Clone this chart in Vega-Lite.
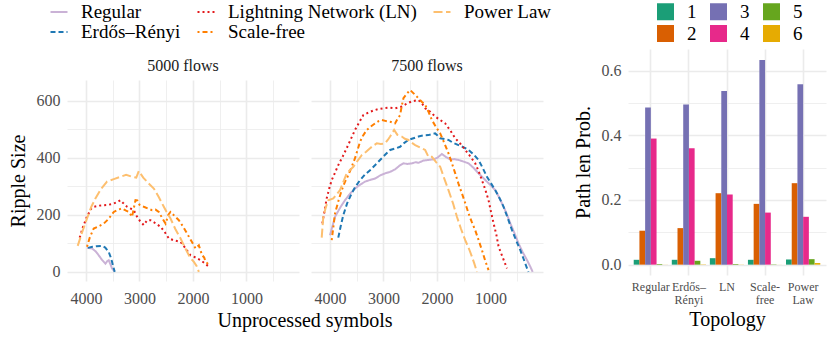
{
  "$schema": "https://vega.github.io/schema/vega-lite/v6.json",
  "background": "white",
  "padding": {"left": 8, "top": 2, "right": 5, "bottom": 5},
  "config": {
    "font": "Liberation Serif",
    "view": {"stroke": null},
    "axis": {"domain": false, "ticks": false, "gridColor": "#EBEBEB", "labelColor": "#4D4D4D", "labelFontSize": 16, "titleFontSize": 20, "titleFontWeight": "normal", "titleColor": "#000000", "labelPadding": 7, "titlePadding": 8, "labelFont": "Liberation Serif", "titleFont": "Liberation Serif"},
    "legend": {"labelFont": "Liberation Serif", "labelLimit": 400},
    "header": {"labelOrient": "top", "titleOrient": "bottom", "labelFontSize": 16, "labelColor": "#1A1A1A", "titleFontSize": 20, "titleFontWeight": "normal", "titleColor": "#000000", "labelPadding": 6, "titlePadding": -5, "labelFont": "Liberation Serif", "titleFont": "Liberation Serif"},
    "facet": {"spacing": 12}
  },
  "spacing": 30,
  "hconcat": [
    {
      "spacing": 8,
      "vconcat": [
        {
          "data": {"values": []},
          "width": 1,
          "height": 1,
          "mark": {"type": "point", "opacity": 0},
          "encoding": {}
        },
        {
          "data": {"name": "lines"},
          "facet": {"column": {"field": "f", "type": "nominal", "title": "Unprocessed symbols"}},
          "spec": {
            "width": 232,
            "height": 201,
            "mark": {"type": "line", "strokeWidth": 2},
            "encoding": {
              "x": {"field": "x", "type": "quantitative", "scale": {"domain": [18, 4355], "reverse": true, "nice": false, "zero": false},
                "axis": {"title": null, "labelPadding": 9, "values": [500, 1000, 1500, 2000, 2500, 3000, 3500, 4000], "labelExpr": "datum.value % 1000 === 0 ? datum.label : ''", "format": "d", "gridWidth": {"condition": {"test": "datum.value % 1000 === 0", "value": 1.6}, "value": 0.8}}},
              "y": {"field": "y", "type": "quantitative", "scale": {"domain": [-32, 672], "nice": false, "zero": false},
                "axis": {"title": "Ripple Size", "values": [0, 100, 200, 300, 400, 500, 600], "labelExpr": "datum.value % 200 === 0 ? datum.label : ''", "gridWidth": {"condition": {"test": "datum.value % 200 === 0", "value": 1.6}, "value": 0.8}}},
              "color": {"field": "t", "type": "nominal",
                "scale": {"domain": ["Regular", "Lightning Network (LN)", "Power Law", "Erdős–Rényi", "Scale-free"], "range": ["#CAB2D6", "#E31A1C", "#FDBF6F", "#1F78B4", "#FF7F00"]},
                "legend": {"orient": "none", "legendX": -18, "legendY": -47, "direction": "horizontal", "columns": 3, "title": null, "labelFontSize": 19, "symbolSize": 289, "symbolStrokeWidth": 2.2, "labelOffset": 12, "columnPadding": 12, "rowPadding": 0}},
              "strokeDash": {"field": "t", "type": "nominal",
                "scale": {"domain": ["Regular", "Lightning Network (LN)", "Power Law", "Erdős–Rényi", "Scale-free"], "range": [[1, 0], [2, 3], [9, 3.5], [5, 3], [2, 3, 5, 3]]},
                "legend": {"orient": "none", "legendX": -18, "legendY": -47, "direction": "horizontal", "columns": 3, "title": null, "labelFontSize": 19, "symbolSize": 289, "symbolStrokeWidth": 2.2, "labelOffset": 12, "columnPadding": 12, "rowPadding": 0}}
            }
          }
        }
      ]
    },
    {
      "data": {"name": "bars"},
      "width": 198,
      "height": 226,
      "mark": {"type": "bar"},
      "encoding": {
        "x": {"field": "topo", "type": "nominal", "sort": ["Regular", "Erdős–Rényi", "LN", "Scale-free", "Power Law"],
          "scale": {"paddingInner": 0.1, "paddingOuter": 0.15},
          "axis": {"title": "Topology", "labelAngle": 0, "labelFontSize": 12, "labelLineHeight": 13, "bandPosition": 0.5, "grid": true, "gridWidth": 1.6, "labelPadding": 6, "titlePadding": 4,
            "labelExpr": "datum.label == 'Erdős–Rényi' ? ['Erdős–', 'Rényi'] : datum.label == 'Scale-free' ? ['Scale-', 'free'] : datum.label == 'Power Law' ? ['Power', 'Law'] : datum.label"}},
        "xOffset": {"field": "len", "type": "nominal", "sort": ["1", "2", "3", "4", "5", "6"], "scale": {"paddingInner": 0, "paddingOuter": 0}},
        "y": {"field": "p", "type": "quantitative", "scale": {"domain": [-0.032, 0.667], "nice": false, "zero": false},
          "axis": {"title": "Path len Prob.", "values": [0, 0.1, 0.2, 0.3, 0.4, 0.5, 0.6], "format": ".1f", "labelExpr": "(round(datum.value * 10) % 2 === 0) ? datum.label : ''", "gridWidth": {"condition": {"test": "round(datum.value * 10) % 2 === 0", "value": 1.6}, "value": 0.8}}},
        "y2": {"datum": 0},
        "fill": {"field": "len", "type": "nominal",
          "scale": {"domain": ["1", "3", "5", "2", "4", "6"], "range": ["#1B9E77", "#7570B3", "#66A61E", "#D95F02", "#E7298A", "#E6AB02"]},
          "legend": {"orient": "none", "legendX": 589, "legendY": -47, "direction": "horizontal", "columns": 3, "title": null, "labelFontSize": 19, "symbolType": "square", "symbolSize": 289, "symbolStrokeWidth": 0, "labelOffset": 12, "columnPadding": 12, "rowPadding": 2}}
      }
    }
  ],
  "datasets": {
    "bars": [
      {"topo": "Regular", "len": "1", "p": 0.015}, {"topo": "Regular", "len": "2", "p": 0.105}, {"topo": "Regular", "len": "3", "p": 0.486}, {"topo": "Regular", "len": "4", "p": 0.39}, {"topo": "Regular", "len": "5", "p": 0.002}, {"topo": "Regular", "len": "6", "p": 0.0003},
      {"topo": "Erdős–Rényi", "len": "1", "p": 0.015}, {"topo": "Erdős–Rényi", "len": "2", "p": 0.113}, {"topo": "Erdős–Rényi", "len": "3", "p": 0.495}, {"topo": "Erdős–Rényi", "len": "4", "p": 0.36}, {"topo": "Erdős–Rényi", "len": "5", "p": 0.012}, {"topo": "Erdős–Rényi", "len": "6", "p": 0.001},
      {"topo": "LN", "len": "1", "p": 0.02}, {"topo": "LN", "len": "2", "p": 0.221}, {"topo": "LN", "len": "3", "p": 0.537}, {"topo": "LN", "len": "4", "p": 0.217}, {"topo": "LN", "len": "5", "p": 0.002}, {"topo": "LN", "len": "6", "p": 0.0005},
      {"topo": "Scale-free", "len": "1", "p": 0.015}, {"topo": "Scale-free", "len": "2", "p": 0.188}, {"topo": "Scale-free", "len": "3", "p": 0.633}, {"topo": "Scale-free", "len": "4", "p": 0.161}, {"topo": "Scale-free", "len": "5", "p": 0.001}, {"topo": "Scale-free", "len": "6", "p": 0.0002},
      {"topo": "Power Law", "len": "1", "p": 0.016}, {"topo": "Power Law", "len": "2", "p": 0.252}, {"topo": "Power Law", "len": "3", "p": 0.558}, {"topo": "Power Law", "len": "4", "p": 0.148}, {"topo": "Power Law", "len": "5", "p": 0.017}, {"topo": "Power Law", "len": "6", "p": 0.005}
    ],
    "lines": [
      {"f": "5000 flows", "t": "Regular", "x": 3981, "y": 84}, {"f": "5000 flows", "t": "Regular", "x": 3888, "y": 82}, {"f": "5000 flows", "t": "Regular", "x": 3820, "y": 72}, {"f": "5000 flows", "t": "Regular", "x": 3762, "y": 58}, {"f": "5000 flows", "t": "Regular", "x": 3700, "y": 42}, {"f": "5000 flows", "t": "Regular", "x": 3637, "y": 29}, {"f": "5000 flows", "t": "Regular", "x": 3600, "y": 38}, {"f": "5000 flows", "t": "Regular", "x": 3575, "y": 41}, {"f": "5000 flows", "t": "Regular", "x": 3540, "y": 25}, {"f": "5000 flows", "t": "Regular", "x": 3513, "y": 12}, {"f": "5000 flows", "t": "Regular", "x": 3470, "y": 2},
      {"f": "5000 flows", "t": "Erdős–Rényi", "x": 3962, "y": 84}, {"f": "5000 flows", "t": "Erdős–Rényi", "x": 3880, "y": 88}, {"f": "5000 flows", "t": "Erdős–Rényi", "x": 3800, "y": 90}, {"f": "5000 flows", "t": "Erdős–Rényi", "x": 3700, "y": 91}, {"f": "5000 flows", "t": "Erdős–Rényi", "x": 3640, "y": 85}, {"f": "5000 flows", "t": "Erdős–Rényi", "x": 3575, "y": 70}, {"f": "5000 flows", "t": "Erdős–Rényi", "x": 3540, "y": 52}, {"f": "5000 flows", "t": "Erdős–Rényi", "x": 3513, "y": 35}, {"f": "5000 flows", "t": "Erdős–Rényi", "x": 3490, "y": 18}, {"f": "5000 flows", "t": "Erdős–Rényi", "x": 3463, "y": 0},
      {"f": "5000 flows", "t": "Lightning Network (LN)", "x": 4118, "y": 120}, {"f": "5000 flows", "t": "Lightning Network (LN)", "x": 4060, "y": 155}, {"f": "5000 flows", "t": "Lightning Network (LN)", "x": 3980, "y": 195}, {"f": "5000 flows", "t": "Lightning Network (LN)", "x": 3900, "y": 222}, {"f": "5000 flows", "t": "Lightning Network (LN)", "x": 3856, "y": 228}, {"f": "5000 flows", "t": "Lightning Network (LN)", "x": 3750, "y": 232}, {"f": "5000 flows", "t": "Lightning Network (LN)", "x": 3607, "y": 234}, {"f": "5000 flows", "t": "Lightning Network (LN)", "x": 3500, "y": 238}, {"f": "5000 flows", "t": "Lightning Network (LN)", "x": 3420, "y": 244}, {"f": "5000 flows", "t": "Lightning Network (LN)", "x": 3356, "y": 251}, {"f": "5000 flows", "t": "Lightning Network (LN)", "x": 3300, "y": 240}, {"f": "5000 flows", "t": "Lightning Network (LN)", "x": 3232, "y": 228}, {"f": "5000 flows", "t": "Lightning Network (LN)", "x": 3170, "y": 222}, {"f": "5000 flows", "t": "Lightning Network (LN)", "x": 3107, "y": 216}, {"f": "5000 flows", "t": "Lightning Network (LN)", "x": 3050, "y": 195}, {"f": "5000 flows", "t": "Lightning Network (LN)", "x": 2990, "y": 178}, {"f": "5000 flows", "t": "Lightning Network (LN)", "x": 2920, "y": 164}, {"f": "5000 flows", "t": "Lightning Network (LN)", "x": 2860, "y": 180}, {"f": "5000 flows", "t": "Lightning Network (LN)", "x": 2794, "y": 181}, {"f": "5000 flows", "t": "Lightning Network (LN)", "x": 2700, "y": 170}, {"f": "5000 flows", "t": "Lightning Network (LN)", "x": 2607, "y": 158}, {"f": "5000 flows", "t": "Lightning Network (LN)", "x": 2530, "y": 140}, {"f": "5000 flows", "t": "Lightning Network (LN)", "x": 2451, "y": 117}, {"f": "5000 flows", "t": "Lightning Network (LN)", "x": 2350, "y": 110}, {"f": "5000 flows", "t": "Lightning Network (LN)", "x": 2232, "y": 105}, {"f": "5000 flows", "t": "Lightning Network (LN)", "x": 2150, "y": 85}, {"f": "5000 flows", "t": "Lightning Network (LN)", "x": 2045, "y": 58}, {"f": "5000 flows", "t": "Lightning Network (LN)", "x": 1950, "y": 50}, {"f": "5000 flows", "t": "Lightning Network (LN)", "x": 1858, "y": 41}, {"f": "5000 flows", "t": "Lightning Network (LN)", "x": 1780, "y": 30}, {"f": "5000 flows", "t": "Lightning Network (LN)", "x": 1702, "y": 18},
      {"f": "5000 flows", "t": "Scale-free", "x": 3981, "y": 88}, {"f": "5000 flows", "t": "Scale-free", "x": 3930, "y": 120}, {"f": "5000 flows", "t": "Scale-free", "x": 3856, "y": 152}, {"f": "5000 flows", "t": "Scale-free", "x": 3760, "y": 160}, {"f": "5000 flows", "t": "Scale-free", "x": 3669, "y": 169}, {"f": "5000 flows", "t": "Scale-free", "x": 3580, "y": 185}, {"f": "5000 flows", "t": "Scale-free", "x": 3481, "y": 210}, {"f": "5000 flows", "t": "Scale-free", "x": 3400, "y": 218}, {"f": "5000 flows", "t": "Scale-free", "x": 3326, "y": 222}, {"f": "5000 flows", "t": "Scale-free", "x": 3260, "y": 215}, {"f": "5000 flows", "t": "Scale-free", "x": 3200, "y": 210}, {"f": "5000 flows", "t": "Scale-free", "x": 3139, "y": 193}, {"f": "5000 flows", "t": "Scale-free", "x": 3075, "y": 251}, {"f": "5000 flows", "t": "Scale-free", "x": 3040, "y": 250}, {"f": "5000 flows", "t": "Scale-free", "x": 3000, "y": 235}, {"f": "5000 flows", "t": "Scale-free", "x": 2920, "y": 228}, {"f": "5000 flows", "t": "Scale-free", "x": 2840, "y": 222}, {"f": "5000 flows", "t": "Scale-free", "x": 2764, "y": 216}, {"f": "5000 flows", "t": "Scale-free", "x": 2700, "y": 218}, {"f": "5000 flows", "t": "Scale-free", "x": 2639, "y": 210}, {"f": "5000 flows", "t": "Scale-free", "x": 2580, "y": 190}, {"f": "5000 flows", "t": "Scale-free", "x": 2513, "y": 169}, {"f": "5000 flows", "t": "Scale-free", "x": 2460, "y": 200}, {"f": "5000 flows", "t": "Scale-free", "x": 2420, "y": 210}, {"f": "5000 flows", "t": "Scale-free", "x": 2340, "y": 195}, {"f": "5000 flows", "t": "Scale-free", "x": 2264, "y": 181}, {"f": "5000 flows", "t": "Scale-free", "x": 2190, "y": 160}, {"f": "5000 flows", "t": "Scale-free", "x": 2109, "y": 134}, {"f": "5000 flows", "t": "Scale-free", "x": 2030, "y": 108}, {"f": "5000 flows", "t": "Scale-free", "x": 1951, "y": 82}, {"f": "5000 flows", "t": "Scale-free", "x": 1890, "y": 93}, {"f": "5000 flows", "t": "Scale-free", "x": 1860, "y": 75}, {"f": "5000 flows", "t": "Scale-free", "x": 1827, "y": 58}, {"f": "5000 flows", "t": "Scale-free", "x": 1790, "y": 50}, {"f": "5000 flows", "t": "Scale-free", "x": 1764, "y": 35}, {"f": "5000 flows", "t": "Scale-free", "x": 1730, "y": 30}, {"f": "5000 flows", "t": "Scale-free", "x": 1702, "y": 18},
      {"f": "5000 flows", "t": "Power Law", "x": 4155, "y": 91}, {"f": "5000 flows", "t": "Power Law", "x": 4070, "y": 140}, {"f": "5000 flows", "t": "Power Law", "x": 3981, "y": 187}, {"f": "5000 flows", "t": "Power Law", "x": 3900, "y": 228}, {"f": "5000 flows", "t": "Power Law", "x": 3824, "y": 257}, {"f": "5000 flows", "t": "Power Law", "x": 3720, "y": 290}, {"f": "5000 flows", "t": "Power Law", "x": 3607, "y": 316}, {"f": "5000 flows", "t": "Power Law", "x": 3480, "y": 325}, {"f": "5000 flows", "t": "Power Law", "x": 3356, "y": 333}, {"f": "5000 flows", "t": "Power Law", "x": 3250, "y": 340}, {"f": "5000 flows", "t": "Power Law", "x": 3139, "y": 333}, {"f": "5000 flows", "t": "Power Law", "x": 3060, "y": 330}, {"f": "5000 flows", "t": "Power Law", "x": 3013, "y": 353}, {"f": "5000 flows", "t": "Power Law", "x": 2930, "y": 330}, {"f": "5000 flows", "t": "Power Law", "x": 2830, "y": 310}, {"f": "5000 flows", "t": "Power Law", "x": 2732, "y": 292}, {"f": "5000 flows", "t": "Power Law", "x": 2640, "y": 262}, {"f": "5000 flows", "t": "Power Law", "x": 2545, "y": 228}, {"f": "5000 flows", "t": "Power Law", "x": 2480, "y": 205}, {"f": "5000 flows", "t": "Power Law", "x": 2420, "y": 187}, {"f": "5000 flows", "t": "Power Law", "x": 2330, "y": 150}, {"f": "5000 flows", "t": "Power Law", "x": 2232, "y": 117}, {"f": "5000 flows", "t": "Power Law", "x": 2150, "y": 85}, {"f": "5000 flows", "t": "Power Law", "x": 2077, "y": 58}, {"f": "5000 flows", "t": "Power Law", "x": 2030, "y": 45}, {"f": "5000 flows", "t": "Power Law", "x": 1983, "y": 35}, {"f": "5000 flows", "t": "Power Law", "x": 1930, "y": 20}, {"f": "5000 flows", "t": "Power Law", "x": 1890, "y": 0},
      {"f": "7500 flows", "t": "Regular", "x": 4000, "y": 128}, {"f": "7500 flows", "t": "Regular", "x": 3906, "y": 193}, {"f": "7500 flows", "t": "Regular", "x": 3800, "y": 228}, {"f": "7500 flows", "t": "Regular", "x": 3719, "y": 251}, {"f": "7500 flows", "t": "Regular", "x": 3620, "y": 275}, {"f": "7500 flows", "t": "Regular", "x": 3532, "y": 292}, {"f": "7500 flows", "t": "Regular", "x": 3440, "y": 305}, {"f": "7500 flows", "t": "Regular", "x": 3345, "y": 316}, {"f": "7500 flows", "t": "Regular", "x": 3250, "y": 322}, {"f": "7500 flows", "t": "Regular", "x": 3157, "y": 327}, {"f": "7500 flows", "t": "Regular", "x": 3060, "y": 338}, {"f": "7500 flows", "t": "Regular", "x": 2970, "y": 345}, {"f": "7500 flows", "t": "Regular", "x": 2880, "y": 350}, {"f": "7500 flows", "t": "Regular", "x": 2783, "y": 359}, {"f": "7500 flows", "t": "Regular", "x": 2700, "y": 372}, {"f": "7500 flows", "t": "Regular", "x": 2627, "y": 380}, {"f": "7500 flows", "t": "Regular", "x": 2550, "y": 378}, {"f": "7500 flows", "t": "Regular", "x": 2470, "y": 380}, {"f": "7500 flows", "t": "Regular", "x": 2400, "y": 384}, {"f": "7500 flows", "t": "Regular", "x": 2346, "y": 382}, {"f": "7500 flows", "t": "Regular", "x": 2250, "y": 390}, {"f": "7500 flows", "t": "Regular", "x": 2159, "y": 392}, {"f": "7500 flows", "t": "Regular", "x": 2066, "y": 394}, {"f": "7500 flows", "t": "Regular", "x": 1990, "y": 400}, {"f": "7500 flows", "t": "Regular", "x": 1908, "y": 413}, {"f": "7500 flows", "t": "Regular", "x": 1830, "y": 402}, {"f": "7500 flows", "t": "Regular", "x": 1753, "y": 394}, {"f": "7500 flows", "t": "Regular", "x": 1680, "y": 395}, {"f": "7500 flows", "t": "Regular", "x": 1597, "y": 392}, {"f": "7500 flows", "t": "Regular", "x": 1500, "y": 386}, {"f": "7500 flows", "t": "Regular", "x": 1410, "y": 380}, {"f": "7500 flows", "t": "Regular", "x": 1320, "y": 365}, {"f": "7500 flows", "t": "Regular", "x": 1223, "y": 345}, {"f": "7500 flows", "t": "Regular", "x": 1140, "y": 330}, {"f": "7500 flows", "t": "Regular", "x": 1066, "y": 316}, {"f": "7500 flows", "t": "Regular", "x": 990, "y": 302}, {"f": "7500 flows", "t": "Regular", "x": 910, "y": 286}, {"f": "7500 flows", "t": "Regular", "x": 850, "y": 265}, {"f": "7500 flows", "t": "Regular", "x": 785, "y": 240}, {"f": "7500 flows", "t": "Regular", "x": 700, "y": 205}, {"f": "7500 flows", "t": "Regular", "x": 629, "y": 170}, {"f": "7500 flows", "t": "Regular", "x": 550, "y": 135}, {"f": "7500 flows", "t": "Regular", "x": 474, "y": 99}, {"f": "7500 flows", "t": "Regular", "x": 400, "y": 70}, {"f": "7500 flows", "t": "Regular", "x": 316, "y": 41}, {"f": "7500 flows", "t": "Regular", "x": 260, "y": 20}, {"f": "7500 flows", "t": "Regular", "x": 211, "y": 0},
      {"f": "7500 flows", "t": "Erdős–Rényi", "x": 3845, "y": 120}, {"f": "7500 flows", "t": "Erdős–Rényi", "x": 3800, "y": 160}, {"f": "7500 flows", "t": "Erdős–Rényi", "x": 3751, "y": 199}, {"f": "7500 flows", "t": "Erdős–Rényi", "x": 3680, "y": 240}, {"f": "7500 flows", "t": "Erdős–Rényi", "x": 3594, "y": 275}, {"f": "7500 flows", "t": "Erdős–Rényi", "x": 3520, "y": 300}, {"f": "7500 flows", "t": "Erdős–Rényi", "x": 3438, "y": 321}, {"f": "7500 flows", "t": "Erdős–Rényi", "x": 3350, "y": 340}, {"f": "7500 flows", "t": "Erdős–Rényi", "x": 3251, "y": 356}, {"f": "7500 flows", "t": "Erdős–Rényi", "x": 3150, "y": 375}, {"f": "7500 flows", "t": "Erdős–Rényi", "x": 3064, "y": 392}, {"f": "7500 flows", "t": "Erdős–Rényi", "x": 2970, "y": 410}, {"f": "7500 flows", "t": "Erdős–Rényi", "x": 2876, "y": 427}, {"f": "7500 flows", "t": "Erdős–Rényi", "x": 2780, "y": 432}, {"f": "7500 flows", "t": "Erdős–Rényi", "x": 2689, "y": 438}, {"f": "7500 flows", "t": "Erdős–Rényi", "x": 2610, "y": 452}, {"f": "7500 flows", "t": "Erdős–Rényi", "x": 2533, "y": 462}, {"f": "7500 flows", "t": "Erdős–Rényi", "x": 2440, "y": 468}, {"f": "7500 flows", "t": "Erdős–Rényi", "x": 2346, "y": 474}, {"f": "7500 flows", "t": "Erdős–Rényi", "x": 2250, "y": 478}, {"f": "7500 flows", "t": "Erdős–Rényi", "x": 2159, "y": 479}, {"f": "7500 flows", "t": "Erdős–Rényi", "x": 2100, "y": 482}, {"f": "7500 flows", "t": "Erdős–Rényi", "x": 2034, "y": 485}, {"f": "7500 flows", "t": "Erdős–Rényi", "x": 1990, "y": 478}, {"f": "7500 flows", "t": "Erdős–Rényi", "x": 1940, "y": 468}, {"f": "7500 flows", "t": "Erdős–Rényi", "x": 1860, "y": 465}, {"f": "7500 flows", "t": "Erdős–Rényi", "x": 1785, "y": 462}, {"f": "7500 flows", "t": "Erdős–Rényi", "x": 1700, "y": 452}, {"f": "7500 flows", "t": "Erdős–Rényi", "x": 1597, "y": 444}, {"f": "7500 flows", "t": "Erdős–Rényi", "x": 1500, "y": 436}, {"f": "7500 flows", "t": "Erdős–Rényi", "x": 1410, "y": 427}, {"f": "7500 flows", "t": "Erdős–Rényi", "x": 1310, "y": 410}, {"f": "7500 flows", "t": "Erdős–Rényi", "x": 1223, "y": 392}, {"f": "7500 flows", "t": "Erdős–Rényi", "x": 1140, "y": 362}, {"f": "7500 flows", "t": "Erdős–Rényi", "x": 1066, "y": 333}, {"f": "7500 flows", "t": "Erdős–Rényi", "x": 990, "y": 310}, {"f": "7500 flows", "t": "Erdős–Rényi", "x": 910, "y": 286}, {"f": "7500 flows", "t": "Erdős–Rényi", "x": 830, "y": 258}, {"f": "7500 flows", "t": "Erdős–Rényi", "x": 755, "y": 228}, {"f": "7500 flows", "t": "Erdős–Rényi", "x": 680, "y": 190}, {"f": "7500 flows", "t": "Erdős–Rényi", "x": 597, "y": 146}, {"f": "7500 flows", "t": "Erdős–Rényi", "x": 520, "y": 110}, {"f": "7500 flows", "t": "Erdős–Rényi", "x": 442, "y": 76}, {"f": "7500 flows", "t": "Erdős–Rényi", "x": 380, "y": 45}, {"f": "7500 flows", "t": "Erdős–Rényi", "x": 316, "y": 12}, {"f": "7500 flows", "t": "Erdős–Rényi", "x": 290, "y": 0},
      {"f": "7500 flows", "t": "Lightning Network (LN)", "x": 4143, "y": 170}, {"f": "7500 flows", "t": "Lightning Network (LN)", "x": 4100, "y": 215}, {"f": "7500 flows", "t": "Lightning Network (LN)", "x": 4062, "y": 257}, {"f": "7500 flows", "t": "Lightning Network (LN)", "x": 4010, "y": 295}, {"f": "7500 flows", "t": "Lightning Network (LN)", "x": 3968, "y": 321}, {"f": "7500 flows", "t": "Lightning Network (LN)", "x": 3900, "y": 350}, {"f": "7500 flows", "t": "Lightning Network (LN)", "x": 3845, "y": 374}, {"f": "7500 flows", "t": "Lightning Network (LN)", "x": 3760, "y": 405}, {"f": "7500 flows", "t": "Lightning Network (LN)", "x": 3688, "y": 433}, {"f": "7500 flows", "t": "Lightning Network (LN)", "x": 3610, "y": 465}, {"f": "7500 flows", "t": "Lightning Network (LN)", "x": 3532, "y": 497}, {"f": "7500 flows", "t": "Lightning Network (LN)", "x": 3450, "y": 525}, {"f": "7500 flows", "t": "Lightning Network (LN)", "x": 3376, "y": 549}, {"f": "7500 flows", "t": "Lightning Network (LN)", "x": 3280, "y": 558}, {"f": "7500 flows", "t": "Lightning Network (LN)", "x": 3189, "y": 565}, {"f": "7500 flows", "t": "Lightning Network (LN)", "x": 3100, "y": 570}, {"f": "7500 flows", "t": "Lightning Network (LN)", "x": 3002, "y": 573}, {"f": "7500 flows", "t": "Lightning Network (LN)", "x": 2900, "y": 575}, {"f": "7500 flows", "t": "Lightning Network (LN)", "x": 2783, "y": 573}, {"f": "7500 flows", "t": "Lightning Network (LN)", "x": 2720, "y": 576}, {"f": "7500 flows", "t": "Lightning Network (LN)", "x": 2658, "y": 579}, {"f": "7500 flows", "t": "Lightning Network (LN)", "x": 2560, "y": 590}, {"f": "7500 flows", "t": "Lightning Network (LN)", "x": 2470, "y": 597}, {"f": "7500 flows", "t": "Lightning Network (LN)", "x": 2400, "y": 600}, {"f": "7500 flows", "t": "Lightning Network (LN)", "x": 2346, "y": 602}, {"f": "7500 flows", "t": "Lightning Network (LN)", "x": 2280, "y": 590}, {"f": "7500 flows", "t": "Lightning Network (LN)", "x": 2221, "y": 573}, {"f": "7500 flows", "t": "Lightning Network (LN)", "x": 2127, "y": 561}, {"f": "7500 flows", "t": "Lightning Network (LN)", "x": 2034, "y": 544}, {"f": "7500 flows", "t": "Lightning Network (LN)", "x": 1940, "y": 532}, {"f": "7500 flows", "t": "Lightning Network (LN)", "x": 1846, "y": 520}, {"f": "7500 flows", "t": "Lightning Network (LN)", "x": 1750, "y": 495}, {"f": "7500 flows", "t": "Lightning Network (LN)", "x": 1659, "y": 468}, {"f": "7500 flows", "t": "Lightning Network (LN)", "x": 1560, "y": 448}, {"f": "7500 flows", "t": "Lightning Network (LN)", "x": 1472, "y": 427}, {"f": "7500 flows", "t": "Lightning Network (LN)", "x": 1380, "y": 405}, {"f": "7500 flows", "t": "Lightning Network (LN)", "x": 1285, "y": 380}, {"f": "7500 flows", "t": "Lightning Network (LN)", "x": 1220, "y": 352}, {"f": "7500 flows", "t": "Lightning Network (LN)", "x": 1159, "y": 321}, {"f": "7500 flows", "t": "Lightning Network (LN)", "x": 1100, "y": 290}, {"f": "7500 flows", "t": "Lightning Network (LN)", "x": 1036, "y": 251}, {"f": "7500 flows", "t": "Lightning Network (LN)", "x": 990, "y": 210}, {"f": "7500 flows", "t": "Lightning Network (LN)", "x": 942, "y": 170}, {"f": "7500 flows", "t": "Lightning Network (LN)", "x": 890, "y": 130}, {"f": "7500 flows", "t": "Lightning Network (LN)", "x": 848, "y": 88}, {"f": "7500 flows", "t": "Lightning Network (LN)", "x": 770, "y": 50}, {"f": "7500 flows", "t": "Lightning Network (LN)", "x": 691, "y": 12},
      {"f": "7500 flows", "t": "Scale-free", "x": 3968, "y": 111}, {"f": "7500 flows", "t": "Scale-free", "x": 3935, "y": 160}, {"f": "7500 flows", "t": "Scale-free", "x": 3906, "y": 205}, {"f": "7500 flows", "t": "Scale-free", "x": 3840, "y": 250}, {"f": "7500 flows", "t": "Scale-free", "x": 3781, "y": 286}, {"f": "7500 flows", "t": "Scale-free", "x": 3720, "y": 315}, {"f": "7500 flows", "t": "Scale-free", "x": 3657, "y": 339}, {"f": "7500 flows", "t": "Scale-free", "x": 3590, "y": 370}, {"f": "7500 flows", "t": "Scale-free", "x": 3532, "y": 398}, {"f": "7500 flows", "t": "Scale-free", "x": 3480, "y": 430}, {"f": "7500 flows", "t": "Scale-free", "x": 3438, "y": 456}, {"f": "7500 flows", "t": "Scale-free", "x": 3380, "y": 478}, {"f": "7500 flows", "t": "Scale-free", "x": 3313, "y": 497}, {"f": "7500 flows", "t": "Scale-free", "x": 3230, "y": 510}, {"f": "7500 flows", "t": "Scale-free", "x": 3157, "y": 520}, {"f": "7500 flows", "t": "Scale-free", "x": 3090, "y": 528}, {"f": "7500 flows", "t": "Scale-free", "x": 3032, "y": 532}, {"f": "7500 flows", "t": "Scale-free", "x": 2950, "y": 528}, {"f": "7500 flows", "t": "Scale-free", "x": 2876, "y": 526}, {"f": "7500 flows", "t": "Scale-free", "x": 2783, "y": 520}, {"f": "7500 flows", "t": "Scale-free", "x": 2740, "y": 535}, {"f": "7500 flows", "t": "Scale-free", "x": 2689, "y": 549}, {"f": "7500 flows", "t": "Scale-free", "x": 2660, "y": 580}, {"f": "7500 flows", "t": "Scale-free", "x": 2627, "y": 608}, {"f": "7500 flows", "t": "Scale-free", "x": 2560, "y": 625}, {"f": "7500 flows", "t": "Scale-free", "x": 2502, "y": 637}, {"f": "7500 flows", "t": "Scale-free", "x": 2420, "y": 622}, {"f": "7500 flows", "t": "Scale-free", "x": 2346, "y": 608}, {"f": "7500 flows", "t": "Scale-free", "x": 2280, "y": 595}, {"f": "7500 flows", "t": "Scale-free", "x": 2221, "y": 585}, {"f": "7500 flows", "t": "Scale-free", "x": 2159, "y": 561}, {"f": "7500 flows", "t": "Scale-free", "x": 2096, "y": 532}, {"f": "7500 flows", "t": "Scale-free", "x": 2020, "y": 508}, {"f": "7500 flows", "t": "Scale-free", "x": 1940, "y": 485}, {"f": "7500 flows", "t": "Scale-free", "x": 1860, "y": 450}, {"f": "7500 flows", "t": "Scale-free", "x": 1785, "y": 415}, {"f": "7500 flows", "t": "Scale-free", "x": 1720, "y": 380}, {"f": "7500 flows", "t": "Scale-free", "x": 1659, "y": 345}, {"f": "7500 flows", "t": "Scale-free", "x": 1600, "y": 310}, {"f": "7500 flows", "t": "Scale-free", "x": 1534, "y": 275}, {"f": "7500 flows", "t": "Scale-free", "x": 1470, "y": 240}, {"f": "7500 flows", "t": "Scale-free", "x": 1410, "y": 205}, {"f": "7500 flows", "t": "Scale-free", "x": 1350, "y": 175}, {"f": "7500 flows", "t": "Scale-free", "x": 1285, "y": 146}, {"f": "7500 flows", "t": "Scale-free", "x": 1220, "y": 110}, {"f": "7500 flows", "t": "Scale-free", "x": 1159, "y": 76}, {"f": "7500 flows", "t": "Scale-free", "x": 1100, "y": 40}, {"f": "7500 flows", "t": "Scale-free", "x": 1036, "y": 6},
      {"f": "7500 flows", "t": "Power Law", "x": 4155, "y": 120}, {"f": "7500 flows", "t": "Power Law", "x": 4125, "y": 193}, {"f": "7500 flows", "t": "Power Law", "x": 4080, "y": 225}, {"f": "7500 flows", "t": "Power Law", "x": 4032, "y": 251}, {"f": "7500 flows", "t": "Power Law", "x": 3938, "y": 257}, {"f": "7500 flows", "t": "Power Law", "x": 3880, "y": 270}, {"f": "7500 flows", "t": "Power Law", "x": 3813, "y": 286}, {"f": "7500 flows", "t": "Power Law", "x": 3750, "y": 315}, {"f": "7500 flows", "t": "Power Law", "x": 3688, "y": 345}, {"f": "7500 flows", "t": "Power Law", "x": 3620, "y": 358}, {"f": "7500 flows", "t": "Power Law", "x": 3563, "y": 368}, {"f": "7500 flows", "t": "Power Law", "x": 3480, "y": 390}, {"f": "7500 flows", "t": "Power Law", "x": 3407, "y": 409}, {"f": "7500 flows", "t": "Power Law", "x": 3330, "y": 420}, {"f": "7500 flows", "t": "Power Law", "x": 3251, "y": 433}, {"f": "7500 flows", "t": "Power Law", "x": 3190, "y": 442}, {"f": "7500 flows", "t": "Power Law", "x": 3126, "y": 450}, {"f": "7500 flows", "t": "Power Law", "x": 3050, "y": 448}, {"f": "7500 flows", "t": "Power Law", "x": 2970, "y": 450}, {"f": "7500 flows", "t": "Power Law", "x": 2920, "y": 462}, {"f": "7500 flows", "t": "Power Law", "x": 2876, "y": 474}, {"f": "7500 flows", "t": "Power Law", "x": 2801, "y": 497}, {"f": "7500 flows", "t": "Power Law", "x": 2740, "y": 480}, {"f": "7500 flows", "t": "Power Law", "x": 2658, "y": 474}, {"f": "7500 flows", "t": "Power Law", "x": 2600, "y": 466}, {"f": "7500 flows", "t": "Power Law", "x": 2533, "y": 462}, {"f": "7500 flows", "t": "Power Law", "x": 2470, "y": 452}, {"f": "7500 flows", "t": "Power Law", "x": 2408, "y": 444}, {"f": "7500 flows", "t": "Power Law", "x": 2340, "y": 438}, {"f": "7500 flows", "t": "Power Law", "x": 2283, "y": 433}, {"f": "7500 flows", "t": "Power Law", "x": 2221, "y": 427}, {"f": "7500 flows", "t": "Power Law", "x": 2159, "y": 403}, {"f": "7500 flows", "t": "Power Law", "x": 2096, "y": 403}, {"f": "7500 flows", "t": "Power Law", "x": 2020, "y": 385}, {"f": "7500 flows", "t": "Power Law", "x": 1940, "y": 368}, {"f": "7500 flows", "t": "Power Law", "x": 1860, "y": 325}, {"f": "7500 flows", "t": "Power Law", "x": 1785, "y": 286}, {"f": "7500 flows", "t": "Power Law", "x": 1700, "y": 240}, {"f": "7500 flows", "t": "Power Law", "x": 1627, "y": 193}, {"f": "7500 flows", "t": "Power Law", "x": 1550, "y": 150}, {"f": "7500 flows", "t": "Power Law", "x": 1472, "y": 111}, {"f": "7500 flows", "t": "Power Law", "x": 1400, "y": 80}, {"f": "7500 flows", "t": "Power Law", "x": 1346, "y": 53}, {"f": "7500 flows", "t": "Power Law", "x": 1300, "y": 28}, {"f": "7500 flows", "t": "Power Law", "x": 1253, "y": 0}
    ]
  }
}
